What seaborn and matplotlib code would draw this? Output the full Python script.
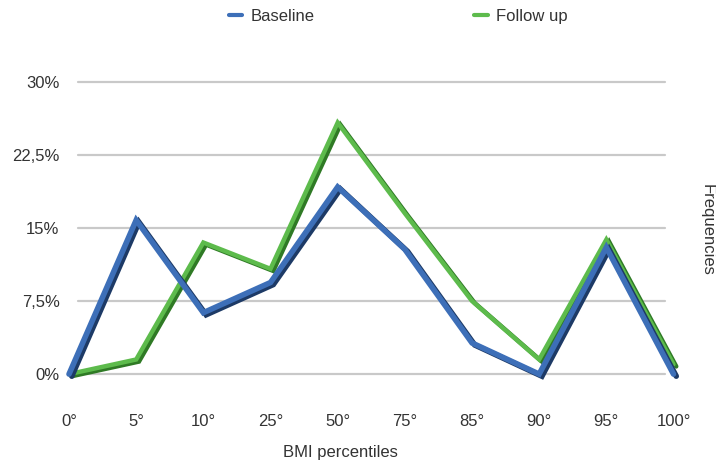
import pandas as pd
import matplotlib.pyplot as plt
import matplotlib.patheffects as pe
from matplotlib.lines import Line2D
import seaborn as sns
plt.switch_backend("Agg")

sns.set_style("white")
plt.rcParams["font.family"] = ["Liberation Sans", "DejaVu Sans"]

percentiles = ["0°", "5°", "10°", "25°", "50°", "75°", "85°", "90°", "95°", "100°"]
baseline = [0, 15.8, 6.3, 9.4, 19.2, 12.8, 3.2, 0, 13.0, 0]
follow_up = [0, 1.5, 13.5, 10.8, 25.8, 16.5, 7.5, 1.5, 13.8, 1.0]
ytick_vals = [0, 7.5, 15, 22.5, 30]
ytick_labels = ["0%", "7,5%", "15%", "22,5%", "30%"]

blue, blue_dark = "#3d6fb8", "#1d3a66"
green, green_dark = "#5dbb4c", "#2f7a25"

fig, ax = plt.subplots(figsize=(7.16, 4.68), dpi=100)
fig.subplots_adjust(left=0.087, right=0.95, top=0.84, bottom=0.145)

# gridlines, a bit narrower than the axes like the original
for v in ytick_vals:
    ax.axhline(v, xmin=0.026, xmax=0.975, color="#c9c9c9", lw=1.6, zorder=0)

# follow up sits behind baseline
sns.lineplot(x=percentiles, y=follow_up, color=green, linewidth=3.2, sort=False, ax=ax)
sns.lineplot(x=percentiles, y=baseline, color=blue, linewidth=4, sort=False, ax=ax)

shadows = [green_dark, blue_dark]
for i, line in enumerate(ax.lines[-2:]):
    line.set_solid_joinstyle("miter")
    line.set_clip_on(False)
    line.set_zorder(3 + i)
    line.set_path_effects([
        pe.SimpleLineShadow(offset=(2, -1.5), shadow_color=shadows[i], alpha=1),
        pe.Normal(),
    ])

ax.set_xlim(-0.1, 9.1)
ax.set_ylim(-2.67, 30.7)
ax.set_yticks(ytick_vals)
ax.set_yticklabels(ytick_labels)
ax.tick_params(axis="x", length=0, pad=10, labelsize=12, labelcolor="#333333")
ax.tick_params(axis="y", length=0, pad=2, labelsize=12, labelcolor="#333333")
for s in ax.spines.values():
    s.set_visible(False)

ax.set_ylabel("")
ax.set_xlabel("BMI percentiles", fontsize=12, color="#333333")
ax.xaxis.set_label_coords(0.45, -0.138)
fig.text(0.987, 1 - 230 / 468, "Frequencies", rotation=-90, va="center", ha="center",
         fontsize=12, color="#333333")

handles = [Line2D([0], [0], color=blue, lw=3), Line2D([0], [0], color=green, lw=3)]
fig.legend(handles, ["Baseline", "Follow up"], loc="center", bbox_to_anchor=(0.556, 0.965),
           ncol=2, frameon=False, fontsize=12, handlelength=0.8, handletextpad=0.5,
           columnspacing=9.6, labelcolor="#333333")

fig.savefig("out.png", dpi=100)
